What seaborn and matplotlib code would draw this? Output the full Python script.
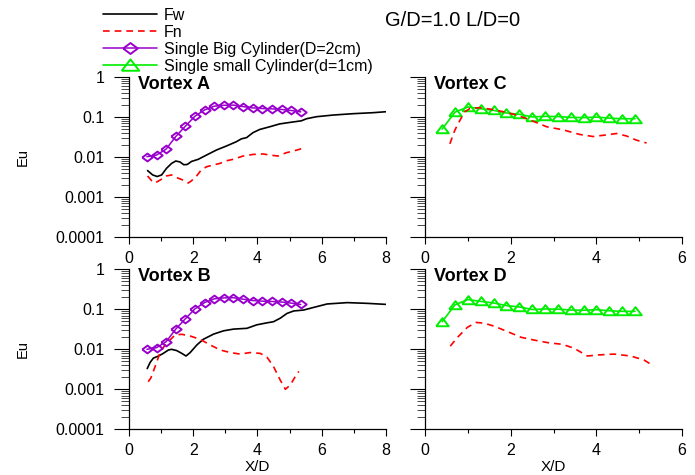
#python 3 script to redraw the Eu vs X/D vortex chart (G/D=1.0 L/D=0)
import numpy as np
import pandas as pd
import seaborn as sns
import matplotlib.pyplot as plt
from matplotlib.ticker import FixedLocator, FixedFormatter, LogLocator, NullFormatter

# single cylinders (same reference data in both vortex panels)
big_x = [0.55, 0.85, 1.15, 1.45, 1.75, 2.05, 2.35, 2.65, 2.95, 3.25, 3.55, 3.85, 4.15, 4.45, 4.75, 5.05, 5.35]
big_eu = [0.010, 0.011, 0.0155, 0.032, 0.058, 0.103, 0.148, 0.183, 0.193, 0.195, 0.179, 0.166, 0.160, 0.157, 0.152, 0.143, 0.132]
small_x = [0.4, 0.7, 1.0, 1.3, 1.6, 1.9, 2.2, 2.5, 2.8, 3.1, 3.4, 3.7, 4.0, 4.3, 4.6, 4.9]
small_eu = [0.049, 0.130, 0.175, 0.158, 0.144, 0.124, 0.115, 0.099, 0.102, 0.101, 0.096, 0.095, 0.098, 0.092, 0.089, 0.089]

# vortex A
fw_a_x = [0.57, 0.73, 0.87, 1.01, 1.16, 1.32, 1.45, 1.58, 1.70, 1.81, 1.94, 2.15, 2.41, 2.72, 3.03, 3.34, 3.50,
          3.66, 3.86, 4.07, 4.38, 4.69, 5.01, 5.37, 5.53, 5.84, 6.36, 6.98, 7.60, 8.0]
fw_a_eu = [0.0045, 0.0035, 0.0032, 0.0035, 0.0051, 0.0068, 0.0078, 0.0074, 0.0063, 0.0064, 0.0076, 0.0086, 0.011,
           0.0147, 0.0185, 0.0237, 0.028, 0.030, 0.040, 0.048, 0.056, 0.066, 0.072, 0.079, 0.089, 0.100, 0.110,
           0.119, 0.126, 0.133]
fn_a_x = [0.57, 0.70, 0.80, 0.96, 1.16, 1.32, 1.48, 1.68, 1.84, 1.94, 2.10, 2.25, 2.41, 2.62, 2.83, 3.03, 3.24,
          3.55, 3.86, 4.18, 4.38, 4.64, 4.90, 5.11, 5.37]
fn_a_eu = [0.0033, 0.0025, 0.0022, 0.0026, 0.0033, 0.0035, 0.0030, 0.0026, 0.0022, 0.0025, 0.0033, 0.0047, 0.0056,
           0.0062, 0.0068, 0.0079, 0.0086, 0.0104, 0.0114, 0.0117, 0.0110, 0.0104, 0.0126, 0.0138, 0.0158]

# vortex B
fw_b_x = [0.56, 0.65, 0.75, 0.91, 1.06, 1.22, 1.32, 1.48, 1.64, 1.77, 1.90, 2.11, 2.31, 2.63, 2.94, 3.25, 3.67,
          3.98, 4.30, 4.50, 4.71, 4.92, 5.13, 5.44, 5.76, 6.17, 6.80, 7.42, 8.0]
fw_b_eu = [0.0033, 0.0047, 0.0060, 0.0068, 0.0079, 0.0096, 0.0100, 0.0093, 0.0079, 0.0068, 0.0083, 0.0129, 0.0178,
           0.024, 0.029, 0.032, 0.0335, 0.041, 0.046, 0.049, 0.060, 0.079, 0.091, 0.096, 0.112, 0.136, 0.147,
           0.141, 0.133]
fn_b_x = [0.59, 0.67, 0.75, 0.86, 0.96, 1.12, 1.27, 1.43, 1.64, 1.90, 2.21, 2.52, 2.84, 3.15, 3.46, 3.77, 4.09,
          4.30, 4.50, 4.71, 4.87, 5.03, 5.18, 5.29]
fn_b_eu = [0.00155, 0.0019, 0.0028, 0.0049, 0.0083, 0.0129, 0.017, 0.023, 0.0237, 0.0215, 0.0178, 0.0129, 0.0096,
           0.0083, 0.0076, 0.0083, 0.0079, 0.0063, 0.0037, 0.0017, 0.0010, 0.0013, 0.0021, 0.0028]

# vortex C
fn_c_x = [0.58, 0.70, 0.82, 0.93, 1.05, 1.28, 1.52, 1.83, 2.14, 2.45, 2.84, 3.22, 3.61, 3.92, 4.23, 4.47, 4.70,
          4.93, 5.17]
fn_c_eu = [0.021, 0.047, 0.083, 0.133, 0.161, 0.168, 0.155, 0.133, 0.110, 0.083, 0.056, 0.047, 0.036, 0.032,
           0.035, 0.038, 0.033, 0.026, 0.022]

# vortex D
fn_d_x = [0.59, 0.76, 0.99, 1.19, 1.38, 1.61, 1.93, 2.24, 2.55, 2.86, 3.21, 3.48, 3.79, 4.02, 4.41, 4.80, 5.11, 5.34]
fn_d_eu = [0.012, 0.020, 0.0355, 0.047, 0.045, 0.038, 0.0276, 0.020, 0.017, 0.0147, 0.0133, 0.0106, 0.0068,
           0.0072, 0.0076, 0.0068, 0.0054, 0.0038]

labels = ["Fw", "Fn", "Single Big Cylinder(D=2cm)", "Single small Cylinder(d=1cm)"]
y_ticks = [1e-4, 1e-3, 1e-2, 1e-1, 1]
y_tick_labels = ["0.0001", "0.001", "0.01", "0.1", "1"]

sns.set_theme(style="ticks")
plt.rcParams["font.family"] = ["Liberation Sans", "DejaVu Sans"]
plt.rcParams["text.color"] = "black"

# wide, flat markers like the original export
diamond = [(-1, 0), (0, 0.75), (1, 0), (0, -0.75), (-1, 0)]
triangle = [(-1, -0.6), (1, -0.6), (0, 0.7), (-1, -0.6)]

purple = "#9900cc"
green = "#00ee00"

fig = plt.figure(figsize=(6.95, 4.75), dpi=100)
ax_a = fig.add_axes([0.186, 0.5017, 0.369, 0.3368])
ax_b = fig.add_axes([0.186, 0.0962, 0.369, 0.3368])
ax_c = fig.add_axes([0.6115, 0.5017, 0.370, 0.3368])
ax_d = fig.add_axes([0.6115, 0.0962, 0.370, 0.3368])

handles = {}


def draw_fw(ax, x, y):
    sns.lineplot(x=x, y=y, ax=ax, color="black", lw=1.2, legend=False, sort=False)
    handles["Fw"] = ax.lines[-1]


def draw_fn(ax, x, y):
    sns.lineplot(x=x, y=y, ax=ax, color="#ff0000", lw=1.2, linestyle=(0, (4, 3)), legend=False, sort=False)
    handles["Fn"] = ax.lines[-1]


def draw_big(ax):
    sns.lineplot(x=big_x, y=big_eu, ax=ax, color=purple, lw=1.1, marker=diamond, ms=7.5,
                 mfc="none", mec=purple, mew=1.4, legend=False, sort=False)
    handles[labels[2]] = ax.lines[-1]


def draw_small(ax):
    sns.lineplot(x=small_x, y=small_eu, ax=ax, color=green, lw=1.2, marker=triangle, ms=9,
                 mfc="none", mec=green, mew=1.4, legend=False, sort=False)
    handles[labels[3]] = ax.lines[-1]


draw_fw(ax_a, fw_a_x, fw_a_eu)
draw_fn(ax_a, fn_a_x, fn_a_eu)
draw_big(ax_a)

draw_fw(ax_b, fw_b_x, fw_b_eu)
draw_fn(ax_b, fn_b_x, fn_b_eu)
draw_big(ax_b)

draw_small(ax_c)
draw_fn(ax_c, fn_c_x, fn_c_eu)

draw_small(ax_d)
draw_fn(ax_d, fn_d_x, fn_d_eu)

for ax, name in [(ax_a, "Vortex A"), (ax_b, "Vortex B"), (ax_c, "Vortex C"), (ax_d, "Vortex D")]:
    left = ax in (ax_a, ax_b)
    ax.set_yscale("log")
    ax.set_ylim(1e-4, 1)
    ax.yaxis.set_major_locator(FixedLocator(y_ticks))
    ax.yaxis.set_major_formatter(FixedFormatter(y_tick_labels))
    ax.yaxis.set_minor_locator(LogLocator(base=10, subs=np.arange(2, 10), numticks=20))
    ax.yaxis.set_minor_formatter(NullFormatter())
    if left:
        ax.set_xlim(0, 8)
        ax.set_xticks([0, 2, 4, 6, 8])
        ax.set_xticks([1, 3, 5, 7], minor=True)
    else:
        ax.set_xlim(0, 6)
        ax.set_xticks([0, 2, 4, 6])
        ax.set_xticks([1, 3, 5], minor=True)
    sns.despine(ax=ax)
    for s in ["left", "bottom"]:
        ax.spines[s].set_linewidth(0.9)
        ax.spines[s].set_color("black")
    ax.tick_params(axis="y", which="major", length=11, width=0.8, color="black", pad=7,
                   labelsize=11.5, labelcolor="black", labelleft=left)
    ax.tick_params(axis="y", which="minor", length=6, width=0.5, color="black")
    ax.tick_params(axis="x", which="major", length=5, width=0.8, color="black", pad=5,
                   labelsize=11.5, labelcolor="black")
    ax.tick_params(axis="x", which="minor", length=3, width=0.8, color="black")
    ax.set_facecolor("white")
    ax.text(0.035, 0.925, name, transform=ax.transAxes, fontsize=13, fontweight="bold",
            va="baseline", ha="left", color="black")
    if left:
        ax.set_ylabel("Eu", fontsize=10.5, color="black")
        ax.yaxis.set_label_coords(-0.39, 0.5)
    else:
        ax.set_ylabel("")
    if ax in (ax_b, ax_d):
        ax.set_xlabel("X/D", fontsize=11, color="black", labelpad=1)
    else:
        ax.set_xlabel("")

leg = fig.legend([handles[l] for l in labels], labels, loc="upper left", bbox_to_anchor=(103 / 695, 0.984),
                 frameon=False, fontsize=11.5, handlelength=3.4, handletextpad=0.4, labelspacing=0.13,
                 borderpad=0, borderaxespad=0, markerscale=1.4)
for t in leg.get_texts():
    t.set_color("black")
fig.text(0.748, 0.945, "G/D=1.0 L/D=0", fontsize=14.5, ha="right", va="baseline", color="black")

plt.savefig("out.png", dpi=100, facecolor="white")
